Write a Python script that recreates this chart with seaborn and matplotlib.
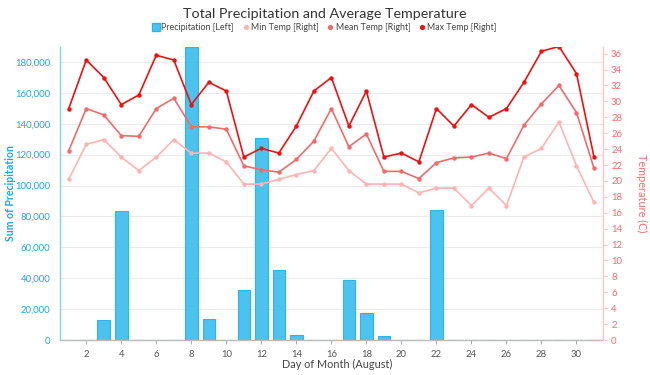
import matplotlib
matplotlib.use("Agg")
import matplotlib.pyplot as plt
import matplotlib.ticker as mticker
from matplotlib.lines import Line2D
import seaborn as sns
import pandas as pd

days = list(range(1, 32))
precip = [0, 0, 13100, 83200, 0, 0, 0, 190000, 13300, 0, 32500, 131000, 45200, 3100,
          0, 0, 39100, 17400, 2800, 0, 0, 84300, 0, 0, 0, 0, 0, 0, 0, 0, 0]
max_temp = [29.1, 35.2, 33.0, 29.6, 30.8, 35.8, 35.2, 29.6, 32.4, 31.3, 23.0, 24.1, 23.5, 26.9,
            31.3, 33.0, 26.9, 31.3, 23.0, 23.5, 22.4, 29.1, 26.9, 29.6, 28.0, 29.1, 32.4, 36.3,
            36.9, 33.5, 23.0]
mean_temp = [23.8, 29.1, 28.3, 25.7, 25.6, 29.1, 30.4, 26.8, 26.8, 26.5, 21.9, 21.4, 21.1, 22.7,
             25.0, 29.1, 24.3, 25.9, 21.2, 21.2, 20.3, 22.3, 22.9, 23.0, 23.5, 22.8, 27.0, 29.7,
             32.0, 28.6, 21.6]
min_temp = [20.2, 24.6, 25.2, 23.0, 21.3, 23.0, 25.2, 23.5, 23.5, 22.4, 19.6, 19.6, 20.2, 20.8,
            21.3, 24.1, 21.3, 19.6, 19.6, 19.6, 18.5, 19.1, 19.1, 16.9, 19.1, 16.9, 23.0, 24.1,
            27.4, 21.9, 17.3]

title = "Total Precipitation and Average Temperature"
x_label = "Day of Month (August)"
left_label = "Sum of Precipitation"
right_label = "Temperature (C)"
legend_labels = ["Precipitation [Left]", "Min Temp [Right]", "Mean Temp [Right]", "Max Temp [Right]"]

df = pd.DataFrame({"day": days, "precip": precip, "max": max_temp, "mean": mean_temp, "min": min_temp})

sns.set_theme(style="white")
plt.rcParams["font.family"] = ["Lato", "DejaVu Sans"]

BLUE = "#4CC2EE"
BLUE_EDGE = "#2EB4E8"
BLUE_TXT = "#1EA6E0"
RED_TXT = "#FF6666"
C_MAX = "#EE1111"
C_MEAN = "#F26B6B"
C_MIN = "#FFB3B3"
GRAY = "#555555"

fig = plt.figure(figsize=(6.5, 3.75), dpi=100)
ax = fig.add_axes([0.0923, 0.0933, 0.8350, 0.7827])
sns.barplot(data=df, x="day", y="precip", native_scale=True, width=0.72,
            color=BLUE, edgecolor=BLUE_EDGE, linewidth=0.8, saturation=1, ax=ax, zorder=2)
ax.set_xlim(0.5, 31.5)
ax.set_ylim(0, 190000)
ax.yaxis.set_major_locator(mticker.MultipleLocator(20000))
ax.yaxis.set_major_formatter(mticker.FuncFormatter(lambda v, p: f"{int(v):,}"))
ax.xaxis.set_major_locator(mticker.FixedLocator(list(range(2, 31, 2))))
ax.grid(axis="y", color="#EBEBEB", linewidth=0.8, zorder=0)
ax.set_axisbelow(True)
ax.tick_params(axis="y", colors=BLUE_TXT, labelsize=6.9, length=0, pad=7)
ax.tick_params(axis="x", colors="#999999", labelcolor=GRAY, labelsize=6.9, length=3, width=0.6, pad=4, bottom=True)
ax.set_xlabel(x_label, fontsize=7.8, color="#444444", va="center")
ax.xaxis.set_label_coords(0.51, -0.085)
ax.set_ylabel(left_label, fontsize=7.6, color=BLUE_TXT, fontweight="bold", va="center")
ax.yaxis.set_label_coords(-0.092, 0.5)
for s in ["top", "right"]:
    ax.spines[s].set_visible(False)
ax.spines["left"].set_color("#7FD3F5")
ax.spines["left"].set_linewidth(1)
ax.spines["bottom"].set_color("#BBBBBB")
ax.spines["bottom"].set_linewidth(1)

ax2 = ax.twinx()
for col, c in [("min", C_MIN), ("mean", C_MEAN), ("max", C_MAX)]:
    sns.lineplot(data=df, x="day", y=col, color=c, marker="o", markersize=3.2,
                 markeredgewidth=0, linewidth=1.2, ax=ax2, zorder=3)
ax2.set_ylim(0, 36.9)
ax2.set_xlim(0.5, 31.5)
ax2.yaxis.set_major_locator(mticker.MultipleLocator(2))
ax2.tick_params(axis="y", colors="#FFB8B8", labelcolor=RED_TXT, labelsize=6.9, length=3, width=0.6, pad=3)
ax2.set_ylabel(right_label, fontsize=7.8, color=RED_TXT, rotation=270, va="center")
ax2.yaxis.set_label_coords(1.072, 0.5)
ax2.set_xlabel("")
for s in ["top", "left", "bottom"]:
    ax2.spines[s].set_visible(False)
ax2.spines["right"].set_color("#FFC4C4")
ax2.spines["right"].set_linewidth(1)
ax2.grid(False)

fig.text(0.5, 0.964, title, ha="center", va="center", fontsize=10.3, color="#333333")

handles = [
    Line2D([], [], marker="s", color="none", markerfacecolor=BLUE, markeredgecolor=BLUE_EDGE, markersize=5.5),
    Line2D([], [], marker="o", color="none", markerfacecolor=C_MIN, markeredgewidth=0, markersize=3.8),
    Line2D([], [], marker="o", color="none", markerfacecolor=C_MEAN, markeredgewidth=0, markersize=3.8),
    Line2D([], [], marker="o", color="none", markerfacecolor=C_MAX, markeredgewidth=0, markersize=3.8),
]
fig.legend(handles, legend_labels, loc="center", bbox_to_anchor=(0.5, 0.927), ncol=4,
           frameon=False, fontsize=6.4, handlelength=0.6, handletextpad=0.3, columnspacing=1.0,
           labelcolor="#444444")

fig.savefig("out.png", dpi=100)
